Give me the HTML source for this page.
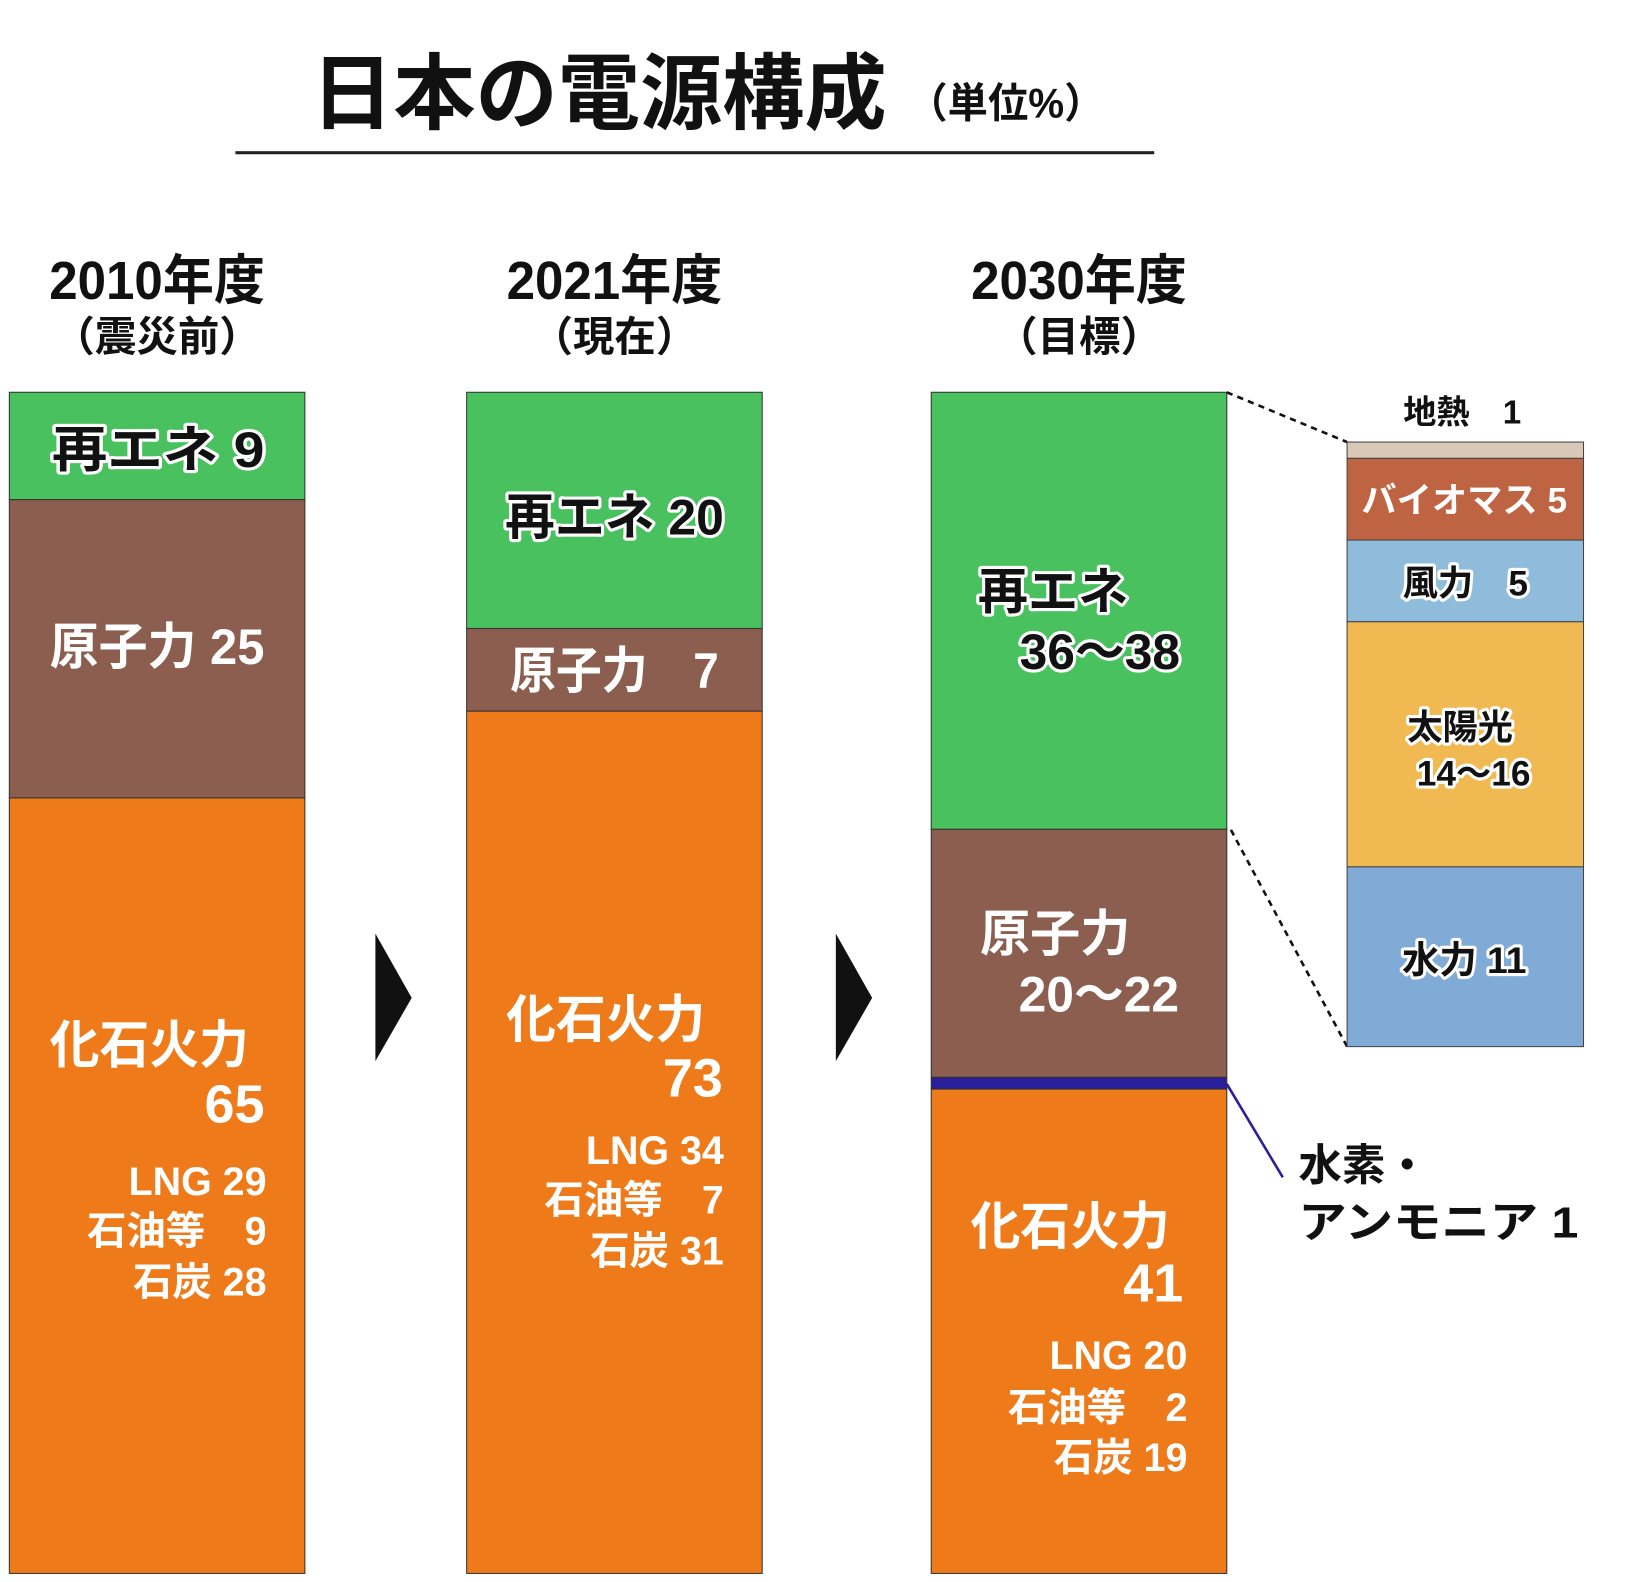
<!DOCTYPE html>
<html><head><meta charset="utf-8">
<style>
html,body{margin:0;padding:0;background:#fff;}
svg{display:block;}
text{font-family:"Liberation Sans","Noto Sans CJK JP",sans-serif;font-weight:bold;}
.ol{paint-order:stroke;stroke:#fff;stroke-width:6px;stroke-linejoin:round;fill:#111;}
.w{fill:#fff;}
</style></head>
<body>
<svg id="chart" width="1625" height="1582" viewBox="0 0 1567 1525" xmlns="http://www.w3.org/2000/svg">
  <text x="300" y="118" font-size="80" textLength="555" lengthAdjust="spacingAndGlyphs" fill="#111">日本の電源構成</text>
  <text x="875" y="113" font-size="40" textLength="190" lengthAdjust="spacingAndGlyphs" fill="#111">（単位%）</text>
  <rect x="227" y="145.5" width="886" height="3" fill="#222"/>

  <g id="headers"></g>
  <g id="bars"></g>

  <polygon points="362,900 397,962 362,1023" fill="#111"/>
  <polygon points="806,900 841,962 806,1023" fill="#111"/>

  <line x1="1183" y1="378" x2="1299" y2="426" stroke="#111" stroke-width="2.5" stroke-dasharray="6,5"/>
  <line x1="1187" y1="800" x2="1299" y2="1009" stroke="#111" stroke-width="2.5" stroke-dasharray="6,5"/>
  <g id="detail"></g>

  <line x1="1183" y1="1045" x2="1237" y2="1135" stroke="#2a1f9a" stroke-width="2.5"/>
  <text x="1252" y="1138" font-size="42" fill="#111">水素・</text>
  <text x="1252" y="1193" font-size="42" textLength="270" lengthAdjust="spacingAndGlyphs" fill="#111">アンモニア 1</text>

  <!-- labels -->
  <text class="ol" x="50" y="450" font-size="48" textLength="205" lengthAdjust="spacingAndGlyphs">再エネ  9</text>
  <text class="w" x="48" y="640" font-size="48" textLength="207" lengthAdjust="spacingAndGlyphs">原子力 25</text>
  <text class="w" x="48" y="1025" font-size="50" textLength="192" lengthAdjust="spacingAndGlyphs">化石火力</text>
  <text class="w" x="255" y="1082" font-size="52" text-anchor="end">65</text>
  <text class="w" x="257" y="1152" font-size="38" text-anchor="end" font-weight="normal">LNG 29</text>
  <text class="w" x="257" y="1200" font-size="38" text-anchor="end" font-weight="normal">石油等　9</text>
  <text class="w" x="257" y="1249" font-size="38" text-anchor="end" font-weight="normal">石炭 28</text>

  <text class="ol" x="487" y="515" font-size="48" textLength="211" lengthAdjust="spacingAndGlyphs">再エネ 20</text>
  <text class="w" x="492" y="663" font-size="48" textLength="201" lengthAdjust="spacingAndGlyphs">原子力　7</text>
  <text class="w" x="488" y="1000" font-size="50" textLength="192" lengthAdjust="spacingAndGlyphs">化石火力</text>
  <text class="w" x="697" y="1057" font-size="52" text-anchor="end">73</text>
  <text class="w" x="698" y="1122" font-size="38" text-anchor="end" font-weight="normal">LNG 34</text>
  <text class="w" x="698" y="1170" font-size="38" text-anchor="end" font-weight="normal">石油等　7</text>
  <text class="w" x="698" y="1219" font-size="38" text-anchor="end" font-weight="normal">石炭 31</text>

  <text class="ol" x="943" y="587" font-size="48" textLength="145" lengthAdjust="spacingAndGlyphs">再エネ</text>
  <text class="ol" x="1138" y="645" font-size="48" text-anchor="end">36〜38</text>
  <text class="w" x="945" y="917" font-size="48" textLength="145" lengthAdjust="spacingAndGlyphs">原子力</text>
  <text class="w" x="1137" y="975" font-size="48" text-anchor="end">20〜22</text>
  <text class="w" x="936" y="1200" font-size="50" textLength="192" lengthAdjust="spacingAndGlyphs">化石火力</text>
  <text class="w" x="1141" y="1255" font-size="52" text-anchor="end">41</text>
  <text class="w" x="1145" y="1320" font-size="38" text-anchor="end" font-weight="normal">LNG 20</text>
  <text class="w" x="1145" y="1370" font-size="38" text-anchor="end" font-weight="normal">石油等　2</text>
  <text class="w" x="1145" y="1418" font-size="38" text-anchor="end" font-weight="normal">石炭 19</text>

  <text x="1410" y="408" font-size="32" text-anchor="middle" fill="#111">地熱　1</text>
  <text class="w" x="1412" y="494" font-size="34" text-anchor="middle">バイオマス 5</text>
  <text class="ol" x="1413" y="574" font-size="34" text-anchor="middle">風力　5</text>
  <text class="ol" x="1408" y="713" font-size="34" text-anchor="middle">太陽光</text>
  <text class="ol" x="1421" y="757" font-size="34" text-anchor="middle">14〜16</text>
  <text class="ol" x="1412" y="938" font-size="36" text-anchor="middle">水力 11</text>
</svg>
<script>
const years = ["2010年度", "2021年度", "2030年度"];
const subtitles = ["（震災前）", "（現在）", "（目標）"];
const renewables = [9, 20, 37];
const nuclear = [25, 7, 21];
const hydrogen = [0, 0, 1];
const fossil = [65, 73, 41];
const detailCategories = ["geothermal", "biomass", "wind", "solar", "hydro"];
const detailValues = [1, 5, 5, 15, 11];

const NS = "http://www.w3.org/2000/svg";
const barX = [9, 450, 898], barW = 285, barTop = 378, barBottom = 1517;
const segColors = ["#48c15e", "#8b5e4f", "#2a1f9a", "#ef7a19"];
const segNames = ["renewables", "nuclear", "hydrogen", "fossil"];
const bars = document.getElementById("bars");
const headers = document.getElementById("headers");

function mk(tag, attrs) { const e = document.createElementNS(NS, tag); for (const k in attrs) e.setAttribute(k, attrs[k]); return e; }

years.forEach((yr, i) => {
  const cx = barX[i] + barW / 2;
  const t = mk("text", {x: cx, y: 288, "font-size": 52, "text-anchor": "middle", fill: "#111", textLength: 208, lengthAdjust: "spacingAndGlyphs"});
  
  
  t.textContent = yr; headers.appendChild(t);
  const s = mk("text", {x: cx, y: 338, "font-size": 40, "text-anchor": "middle", fill: "#111"});
  
  
  s.textContent = subtitles[i]; headers.appendChild(s);

  const vals = [renewables[i], nuclear[i], hydrogen[i], fossil[i]];
  const total = vals.reduce((a, b) => a + b, 0);
  const scale = (barBottom - barTop) / total;
  let y = barTop;
  vals.forEach((v, j) => {
    if (v <= 0) return;
    const h = v * scale;
    const r = mk("rect", {x: barX[i], y: y, width: barW, height: h, fill: segColors[j], stroke: "#333", "stroke-width": 1});
    
    
    bars.appendChild(r);
    y += h;
  });
});

const detail = document.getElementById("detail");
const dColors = ["#d9c7b8", "#bf6443", "#8fbcdb", "#f0b952", "#7fabd6"];
const dX = 1299, dW = 228, dTop = 426, dBottom = 1009;
const dTotal = detailValues.reduce((a, b) => a + b, 0);
const dScale = (dBottom - dTop) / dTotal;
let dy = dTop;
detailValues.forEach((v, j) => {
  const h = v * dScale;
  const r = mk("rect", {x: dX, y: dy, width: dW, height: h, fill: dColors[j], stroke: "#444", "stroke-width": 1});
  
  
  detail.appendChild(r);
  dy += h;
});
</script>
</body></html>
